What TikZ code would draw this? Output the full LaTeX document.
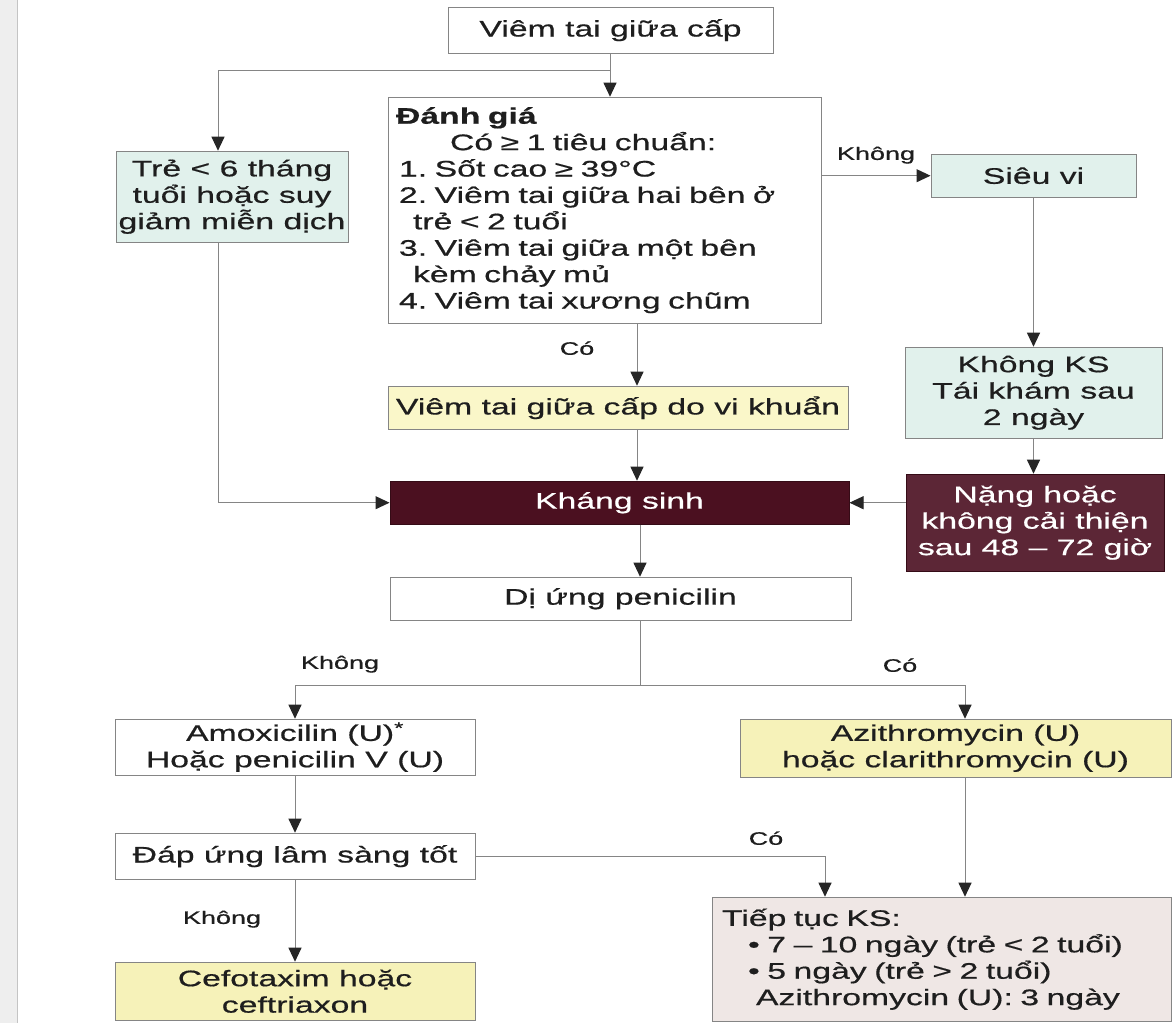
\documentclass[tikz,border=0pt]{standalone}
\usepackage{fontspec}
\setmainfont{Liberation Sans}[FakeStretch=1.5,FakeBold=0.6]
\usetikzlibrary{arrows.meta}
\definecolor{lngrey}{HTML}{858585}
\definecolor{txtgrey}{HTML}{1E1E1E}
\definecolor{lcyan}{HTML}{E1F1EC}
\definecolor{lyel}{HTML}{FAF7C9}
\definecolor{dyel}{HTML}{F6F2B9}
\definecolor{ksred}{HTML}{4B1020}
\definecolor{ngred}{HTML}{5C2636}
\definecolor{tpink}{HTML}{EFE7E5}
\definecolor{edgegrey}{HTML}{EEEEEE}
\definecolor{edgeline}{HTML}{C4C4C4}
\newcommand{\txtsz}{\fontsize{22.5}{26.4}\selectfont}
\newcommand{\lblsz}{\fontsize{18}{20}\selectfont}
\frenchspacing
\tikzset{
  box/.style  = {rectangle, draw=lngrey, line width=1pt, fill=white,
                 inner sep=0pt, align=center, text=txtgrey, font=\txtsz},
  boxc/.style = {box, fill=lcyan},
  boxy/.style = {box, fill=lyel},
  boxd/.style = {box, fill=ksred, draw=ksred!70!black, text=white},
  ed/.style   = {-{Triangle[length=14pt,width=13pt,color=black!85]}, draw=lngrey, line width=1pt},
  ln/.style   = {draw=lngrey, line width=1pt},
  lbl/.style  = {font=\lblsz, text=txtgrey, inner sep=0pt},
}
\begin{document}
\begin{tikzpicture}[x=1pt,y=-1pt]
  \fill[white] (0,0) rectangle (1176,1023);
  \fill[edgegrey] (0,0) rectangle (17,1023);
  \draw[edgeline] (17,0) -- (17,1023);
  \useasboundingbox (0,0) rectangle (1176,1023);
  % boxes
  \node[box,minimum width=325pt,minimum height=46pt] (vtg) at (610.5,30) {Viêm tai giữa cấp};
  \node[boxc,minimum width=232pt,minimum height=91pt] (tre) at (232,196.5)
    {Trẻ < 6 tháng\\tuổi hoặc suy\\giảm miễn dịch};
  \node[box,minimum width=433pt,minimum height=226pt,text width=417pt,align=left] (dg) at (604.5,210)
    {\textbf{Đánh giá}\\
     \hspace*{54pt}Có ≥ 1 tiêu chuẩn:\\
     \hspace*{3pt}1. Sốt cao ≥ 39°C\\
     \hspace*{3pt}2. Viêm tai giữa hai bên ở\\
     \hspace*{17pt}trẻ < 2 tuổi\\
     \hspace*{3pt}3. Viêm tai giữa một bên\\
     \hspace*{17pt}kèm chảy mủ\\
     \hspace*{3pt}4. Viêm tai xương chũm};
  \node[boxc,minimum width=205pt,minimum height=43pt] (sv) at (1033.5,175.5) {Siêu vi};
  \node[boxc,minimum width=257pt,minimum height=91pt] (kks) at (1033.5,392.5)
    {Không KS\\Tái khám sau\\2 ngày};
  \node[boxd,fill=ngred,minimum width=258pt,minimum height=97pt] (nang) at (1035,522.5)
    {Nặng hoặc\\không cải thiện\\sau 48 – 72 giờ};
  \node[boxy,minimum width=460pt,minimum height=43pt] (vk) at (618,407.5) {Viêm tai giữa cấp do vi khuẩn};
  \node[boxd,minimum width=459pt,minimum height=43pt] (ks) at (619.5,502.5) {Kháng sinh};
  \node[box,minimum width=461pt,minimum height=43pt] (du) at (620.5,598.5) {Dị ứng penicilin};
  \node[box,minimum width=360pt,minimum height=56pt] (amox) at (295,747)
    {Amoxicilin (U)\textsuperscript{*}\\Hoặc penicilin V (U)};
  \node[boxy,fill=dyel,minimum width=431pt,minimum height=58pt] (azi) at (955.5,748)
    {Azithromycin (U)\\hoặc clarithromycin (U)};
  \node[box,minimum width=360pt,minimum height=46pt] (dap) at (295,856) {Đáp ứng lâm sàng tốt};
  \node[boxy,fill=dyel,minimum width=360pt,minimum height=58pt] (cefo) at (295,991)
    {Cefotaxim hoặc\\ceftriaxon};
  \node[box,fill=tpink,minimum width=459pt,minimum height=124pt,text width=439pt,align=left] (tiep) at (941.5,959)
    {Tiếp tục KS:\\
     \hspace*{26pt}• 7 – 10 ngày (trẻ < 2 tuổi)\\
     \hspace*{26pt}• 5 ngày (trẻ > 2 tuổi)\\
     \hspace*{34pt}Azithromycin (U): 3 ngày};
  % labels
  \node[lbl] (lkh1) at (876,155) {Không};
  \node[lbl] (lco1) at (577,348) {Có};
  \node[lbl] (lkh2) at (340,664) {Không};
  \node[lbl] (lco2) at (900,665) {Có};
  \node[lbl] (lco3) at (766,838) {Có};
  \node[lbl] (lkh3) at (222,919) {Không};
  % connectors
  \coordinate (jt) at (610,70);
  \coordinate (cx) at (637,0);
  \coordinate (cy) at (640,0);
  \coordinate (sp) at (640,685);
  \draw[ed] (vtg.south -| jt) -- (dg.north -| jt);
  \draw[ed] (jt) -| ([xshift=-14pt]tre.north);
  \draw[ed] ([xshift=-14pt]tre.south) |- (ks.west);
  \draw[ed] (dg.east |- sv.west) -- (sv.west);
  \draw[ed] (sv.south) -- (kks.north);
  \draw[ed] (kks.south) -- (kks.south |- nang.north);
  \draw[ed] (nang.west |- ks.east) -- (ks.east);
  \draw[ed] (dg.south -| cx) -- (vk.north -| cx);
  \draw[ed] (vk.south -| cx) -- (ks.north -| cx);
  \draw[ed] (ks.south -| cy) -- (du.north -| cy);
  \draw[ln] (du.south -| sp) -- (sp);
  \draw[ed] (sp) -| (amox.north);
  \draw[ed] (sp) -| ([xshift=9.5pt]azi.north);
  \draw[ed] (amox.south) -- (dap.north);
  \draw[ed] (dap.south) -- (cefo.north);
  \draw[ed] (dap.east) -| ([xshift=-116.5pt]tiep.north);
  \draw[ed] ([xshift=9.5pt]azi.south) -- ([xshift=23.5pt]tiep.north);
\end{tikzpicture}
\end{document}
